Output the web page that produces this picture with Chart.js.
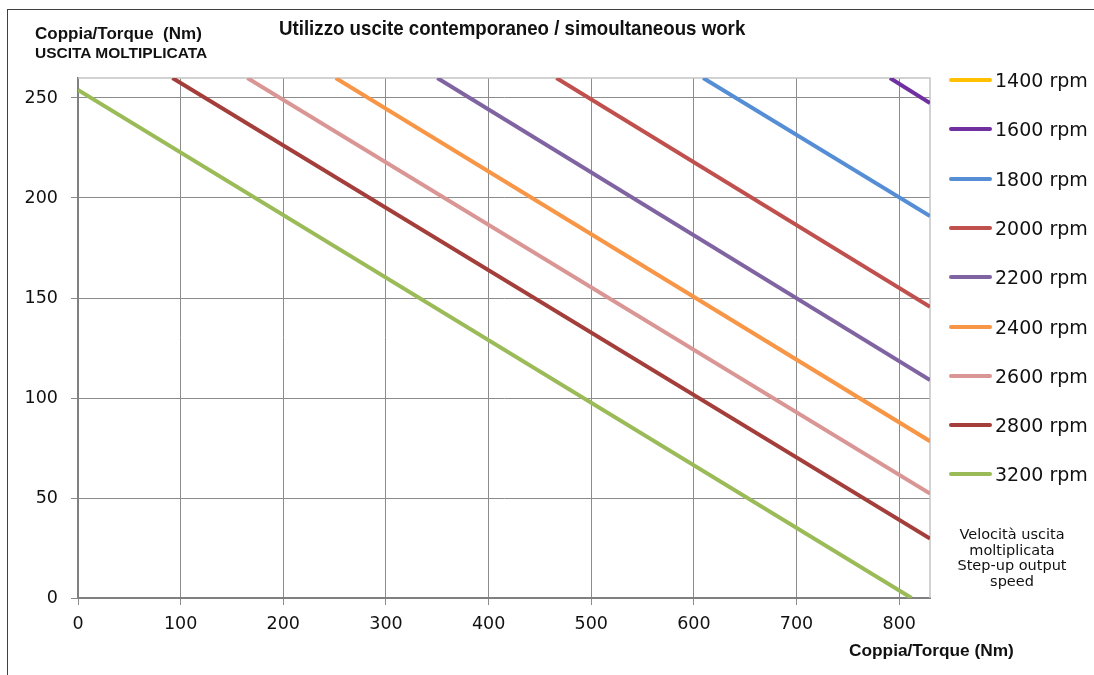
<!DOCTYPE html>
<html>
<head>
<meta charset="utf-8">
<script src="https://cdn.jsdelivr.net/npm/chart.js@4"></script>
<style>
  html, body { margin: 0; padding: 0; background: #fff; overflow: hidden; }
  #wrap { position: relative; width: 1094px; height: 675px; overflow: hidden; }
  #frame { position: absolute; left: 7px; top: 9px; width: 2000px; height: 2000px;
           border-left: 1.5px solid #404040; border-top: 1.5px solid #404040; }
  #chartBox { position: absolute; left: 0; top: 0; width: 1094px; height: 675px; }
  .txt { position: absolute; white-space: nowrap; color: #111; line-height: 1; }
  .bold { font-family: "Liberation Sans", Arial, sans-serif; font-weight: bold; }
  #legend .item { position: absolute; left: 949px; height: 20px; }
  #legend .mark { position: absolute; left: 0; top: 8px; width: 43px; height: 4px; border-radius: 2px; }
  #legend .lab { position: absolute; left: 46px; top: 0; font-family: "DejaVu Sans", sans-serif;
                 font-size: 19px; line-height: 20px; color: #111; white-space: nowrap; }
  #note { position: absolute; left: 942px; top: 527px; width: 140px; text-align: center;
          font-family: "DejaVu Sans", sans-serif; font-size: 14.5px; line-height: 15.5px; color: #111; }
</style>
</head>
<body>
<div id="wrap">
  <div id="frame"></div>
  <div id="chartBox"><canvas id="torqueChart"></canvas></div>
  <div class="txt bold" style="left:279px; top:17.2px; font-size:21px; transform:scaleX(0.89); transform-origin:left top;">Utilizzo uscite contemporaneo / simoultaneous work</div>
  <div class="txt bold" style="left:35px; top:24.6px; font-size:17px;">Coppia/Torque&nbsp; (Nm)</div>
  <div class="txt bold" style="left:35px; top:44.9px; font-size:15.5px;">USCITA MOLTIPLICATA</div>
  <div class="txt bold" style="left:849px; top:642px; font-size:17.3px;">Coppia/Torque (Nm)</div>
  <div id="note">Velocità uscita<br>moltiplicata<br>Step-up output<br>speed</div>
  <div id="legend"></div>
</div>
<script>
// series: output speeds (rpm)
const speedLabels = ['1400 rpm', '1600 rpm', '1800 rpm', '2000 rpm', '2200 rpm', '2400 rpm', '2600 rpm', '2800 rpm', '3200 rpm'];
const lineColors = ['#FFC000', '#7030A0', '#558ED5', '#C0504D', '#8064A2', '#F79646', '#D99694', '#A33E3B', '#9BBB59'];

// where each line enters and leaves the plot (torque Nm)
// 1400 rpm stays above the plotted range
const startX = [null, 791, 609, 466, 350, 251, 165, 92, 0];
const startY = [null, 260, 260, 260, 260, 260, 260, 260, 254];
const endX   = [null, 830, 830, 830, 830, 830, 830, 830, 812];
const endY   = [null, 247.5, 191, 145.6, 109, 78.4, 52.2, 29.7, 0];

// axis ticks
const xTickStep = 100;
const yTickStep = 50;
const xMax = 830;
const yMax = 260;

const datasets = speedLabels.map((label, i) => ({
    label: label,
    data: startX[i] === null ? [] : [
        { x: startX[i], y: startY[i] },
        { x: endX[i], y: endY[i] }
    ],
    borderColor: lineColors[i],
    backgroundColor: lineColors[i],
    borderWidth: 4,
    showLine: true,
    pointRadius: 0,
    tension: 0
}));

// light border on top / right of plot area
const plotEdges = {
    id: 'plotEdges',
    beforeDatasetsDraw(chart) {
        const { ctx, chartArea: a } = chart;
        ctx.save();
        ctx.strokeStyle = '#c4c4c4';
        ctx.lineWidth = 1.5;
        ctx.beginPath();
        ctx.moveTo(a.left, a.top);
        ctx.lineTo(a.right, a.top);
        ctx.lineTo(a.right, a.bottom);
        ctx.stroke();
        ctx.restore();
    }
};

const tickFont = { family: "'DejaVu Sans', sans-serif", size: 17.5 };

const chart = new Chart(document.getElementById('torqueChart'), {
    type: 'scatter',
    data: { datasets: datasets },
    options: {
        responsive: true,
        maintainAspectRatio: false,
        animation: false,
        layout: { padding: { top: 78, right: 164, left: 18, bottom: 27 } },
        plugins: {
            legend: { display: false },
            tooltip: { enabled: false }
        },
        scales: {
            x: {
                type: 'linear',
                min: 0,
                max: xMax,
                afterFit: s => { s.height = 50; },
                grid: { color: '#8c8c8c', lineWidth: 1, tickLength: 7, tickColor: '#8c8c8c' },
                border: { color: '#808080', width: 2 },
                ticks: { stepSize: xTickStep, includeBounds: false, padding: 9, color: '#111', font: tickFont }
            },
            y: {
                min: 0,
                max: yMax,
                afterFit: s => { s.width = 60; },
                grid: { color: '#8c8c8c', lineWidth: 1, tickLength: 7, tickColor: '#8c8c8c' },
                border: { color: '#808080', width: 2 },
                ticks: { stepSize: yTickStep, includeBounds: false, padding: 13, color: '#111', font: tickFont }
            }
        }
    },
    plugins: [plotEdges]
});

// legend list on the right, built from the datasets
const legendEl = document.getElementById('legend');
const legendTop = 80;
const legendStep = 49.3;
chart.data.datasets.forEach((ds, i) => {
    const item = document.createElement('div');
    item.className = 'item';
    item.style.top = (legendTop + i * legendStep - 10) + 'px';
    const mark = document.createElement('span');
    mark.className = 'mark';
    mark.style.background = ds.borderColor;
    const lab = document.createElement('span');
    lab.className = 'lab';
    lab.textContent = ds.label;
    item.appendChild(mark);
    item.appendChild(lab);
    legendEl.appendChild(item);
});
</script>
</body>
</html>
